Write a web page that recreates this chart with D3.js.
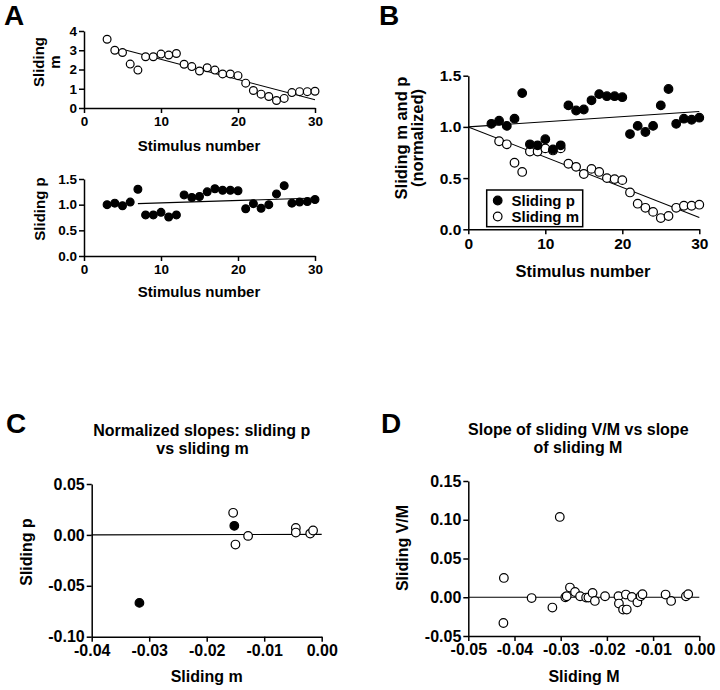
<!DOCTYPE html>
<html><head><meta charset="utf-8">
<script src="https://cdn.jsdelivr.net/npm/d3@7"></script>
<style>
body{margin:0;background:#fff;}
svg{display:block;font-family:"Liberation Sans",Arial,Helvetica,sans-serif;font-weight:bold;}
</style></head><body>
<svg id="chart" width="720" height="690"></svg>
<script>
// ---------- DATA ----------
const stimA = [3,4,5,6,7,8,9,10,11,12,13,14,15,16,17,18,19,20,21,22,23,24,25,26,27,28,29,30];
const slidingM = [3.57,3.00,2.88,2.28,1.97,2.66,2.66,2.80,2.75,2.83,2.27,2.15,1.92,2.09,1.97,1.77,1.77,1.68,1.29,0.91,0.72,0.60,0.39,0.50,0.80,0.85,0.85,0.87];
const slidingP = [1.00,1.03,0.98,1.05,1.30,0.80,0.80,0.85,0.76,0.80,1.19,1.14,1.16,1.25,1.31,1.28,1.28,1.27,0.92,1.02,0.93,1.00,1.21,1.37,1.03,1.05,1.06,1.10];
const fitA_m = [[5,3.05],[30,0.43]];
const fitA_p = [[7,1.02],[30,1.13]];

const stimB_p = [3,4,5,6,7,8,9,10,11,12,13,14,15,16,17,18,19,20,21,22,23,24,25,26,27,28,29,30];
const normP = [1.03,1.06,1.01,1.08,1.33,0.83,0.82,0.88,0.78,0.82,1.21,1.16,1.17,1.26,1.32,1.30,1.30,1.29,0.93,1.01,0.95,1.01,1.21,1.37,1.03,1.08,1.07,1.09];
const stimB_m = [4,5,6,7,8,9,10,11,12,13,14,15,16,17,18,19,20,21,22,23,24,25,26,27,28,29,30];
const normM = [0.86,0.83,0.65,0.56,0.76,0.76,0.79,0.77,0.79,0.64,0.61,0.54,0.59,0.56,0.50,0.49,0.48,0.36,0.25,0.21,0.17,0.11,0.13,0.21,0.23,0.23,0.24];
const fitB_p = [[0,1.0],[30,1.15]];
const fitB_m = [[0,1.0],[30,0.115]];
const legendB = ["Sliding p","Sliding m"];

const slopeC_m_open = [-0.0154,-0.0150,-0.0128,-0.0045,-0.0045,-0.0020,-0.0015];
const slopeC_p_open = [0.0217,-0.0095,-0.0010,0.0069,0.0023,0.0013,0.0043];
const slopeC_m_filled = [-0.0152,-0.0317];
const slopeC_p_filled = [0.0089,-0.0668];
const fitC = [[-0.04,0.0],[0.0,0.0005]];
const titleC = ["Normalized slopes: sliding p","vs sliding m"];

const slopeD_M = [-0.0302,-0.0423,-0.0424,-0.0363,-0.0318,-0.0290,-0.0287,-0.0280,-0.0269,-0.0258,-0.0245,-0.0240,-0.0231,-0.0226,-0.0204,-0.0175,-0.0174,-0.0165,-0.0157,-0.0159,-0.0146,-0.0134,-0.0127,-0.0123,-0.0073,-0.0061,-0.0029,-0.0024];
const slopeD_VM = [0.1036,0.0249,-0.0332,-0.0010,-0.0133,0.0000,0.0013,0.0125,0.0068,0.0013,-0.0004,-0.0004,0.0055,-0.0048,0.0013,0.0013,-0.0081,-0.0159,-0.0159,0.0035,0.0004,-0.0065,0.0013,0.0039,0.0035,-0.0048,0.0013,0.0039];
const fitD = [[-0.05,0.0],[0.0,0.0]];
const titleD = ["Slope of sliding V/M vs slope","of sliding M"];

const ticksStim = [0,10,20,30];
const ticksAm = [0,1,2,3,4];
const ticksP = [0,0.5,1.0,1.5];
const ticksCx = [-0.04,-0.03,-0.02,-0.01,0.00];
const ticksCy = [-0.10,-0.05,0.00,0.05];
const ticksDx = [-0.05,-0.04,-0.03,-0.02,-0.01,0.00];
const ticksDy = [-0.05,0.00,0.05,0.10,0.15];

// ---------- DRAW ----------
const svg = d3.select("#chart");
const fmt2 = v => (v<0?"-":"") + Math.abs(v).toFixed(2);
const fmt1 = v => v.toFixed(1);
const fmt0 = v => String(v);

function axes(g, x, y, xt, yt, xf, yf, fs, xpad, ypad){
  const ax = g.append("g").attr("transform",`translate(0,${y.range()[0]})`)
    .call(d3.axisBottom(x).tickValues(xt).tickFormat(xf).tickSize(5).tickSizeOuter(0).tickPadding(xpad));
  const ay = g.append("g").attr("transform",`translate(${x.range()[0]},0)`)
    .call(d3.axisLeft(y).tickValues(yt).tickFormat(yf).tickSize(5).tickSizeOuter(0).tickPadding(ypad));
  [ax,ay].forEach(a=>{
    a.selectAll("path,line").attr("stroke","#000").attr("stroke-width",1.5);
    a.selectAll("text").attr("fill","#000").style("font-size",fs+"px").style("font-weight","bold").style("font-family","Liberation Sans, Arial, sans-serif");
  });
}
function fitLine(g,x,y,pts){
  g.append("path").datum(pts).attr("fill","none").attr("stroke","#000").attr("stroke-width",1.1)
   .attr("d",d3.line().x(d=>x(d[0])).y(d=>y(d[1])));
}
function dots(g,x,y,xs,ys,r,filled){
  g.append("g").selectAll("circle").data(xs.map((v,i)=>[v,ys[i]])).join("circle")
   .attr("cx",d=>x(d[0])).attr("cy",d=>y(d[1])).attr("r",r)
   .attr("fill",filled?"#000":"#fff").attr("stroke","#000").attr("stroke-width",1.2);
}
function text(g,x,y,s,fs,anchor,rot){
  const t = g.append("text").attr("font-size",fs).attr("text-anchor",anchor||"middle").attr("fill","#000").text(s);
  if(rot) t.attr("transform",`translate(${x},${y}) rotate(-90)`); else t.attr("x",x).attr("y",y);
  return t;
}

// Panel A top
{
  const g = svg.append("g");
  const x = d3.scaleLinear().domain([0,30]).range([84,315]);
  const y = d3.scaleLinear().domain([0,4]).range([108,31]);
  axes(g,x,y,ticksStim,ticksAm,fmt0,fmt0,13.5,3,2);
  fitLine(g,x,y,fitA_m);
  dots(g,x,y,stimA,slidingM,3.9,false);
  text(g,44,62,"Sliding",15,"middle",true);
  text(g,60,62,"m",15,"middle",true);
  text(g,199,150.5,"Stimulus number",15);
  text(g,4,25,"A",28,"start");
}
// Panel A bottom
{
  const g = svg.append("g");
  const x = d3.scaleLinear().domain([0,30]).range([84,315]);
  const y = d3.scaleLinear().domain([0,1.5]).range([256,179]);
  axes(g,x,y,ticksStim,ticksP,fmt0,fmt1,13.5,3,2);
  fitLine(g,x,y,fitA_p);
  dots(g,x,y,stimA,slidingP,3.9,true);
  text(g,45,209,"Sliding p",15,"middle",true);
  text(g,199,297,"Stimulus number",15);
}
// Panel B
{
  const g = svg.append("g");
  const x = d3.scaleLinear().domain([0,30]).range([468.3,699.3]);
  const y = d3.scaleLinear().domain([0,1.5]).range([229.3,75.7]);
  axes(g,x,y,ticksStim,ticksP,fmt0,fmt1,15.5,4,2);
  fitLine(g,x,y,fitB_p);
  fitLine(g,x,y,fitB_m);
  dots(g,x,y,stimB_m,normM,4.3,false);
  dots(g,x,y,stimB_p,normP,4.3,true);
  text(g,407,138,"Sliding m and p",16.5,"middle",true);
  text(g,423,138,"(normalized)",16.5,"middle",true);
  text(g,583,277,"Stimulus number",16.5);
  text(g,379,25,"B",28,"start");
  // legend
  const lg = g.append("g");
  lg.append("rect").attr("x",486.7).attr("y",190).attr("width",96).attr("height",36.7)
    .attr("fill","#fff").attr("stroke","#000").attr("stroke-width",1.5);
  legendB.forEach((s,i)=>{
    lg.append("circle").attr("cx",497.7).attr("cy",200.5+i*16).attr("r",4.3)
      .attr("fill",i===0?"#000":"#fff").attr("stroke","#000").attr("stroke-width",1.2);
    text(lg,511.5,206+i*15.7,s,15,"start");
  });
}
// Panel C
{
  const g = svg.append("g");
  const x = d3.scaleLinear().domain([-0.04,0]).range([91.7,321.7]);
  const y = d3.scaleLinear().domain([-0.10,0.05]).range([636.7,484]);
  axes(g,x,y,ticksCx,ticksCy,fmt2,fmt2,16,3,2);
  fitLine(g,x,y,fitC);
  dots(g,x,y,slopeC_m_open,slopeC_p_open,4.3,false);
  dots(g,x,y,slopeC_m_filled,slopeC_p_filled,4.3,true);
  text(g,201.7,435.5,titleC[0],16);
  text(g,202.5,453.5,titleC[1],16);
  text(g,31.5,552,"Sliding p",16,"middle",true);
  text(g,206.7,681.5,"Sliding m",16);
  text(g,6,433,"C",28,"start");
}
// Panel D
{
  const g = svg.append("g");
  const x = d3.scaleLinear().domain([-0.05,0]).range([468.3,699.3]);
  const y = d3.scaleLinear().domain([-0.05,0.15]).range([636,481]);
  axes(g,x,y,ticksDx,ticksDy,fmt2,fmt2,16,3,2);
  fitLine(g,x,y,fitD);
  dots(g,x,y,slopeD_M,slopeD_VM,4.3,false);
  text(g,578.3,435,titleD[0],16);
  text(g,578,453,titleD[1],16);
  text(g,407.5,548,"Sliding V/M",16,"middle",true);
  text(g,584,681.5,"Sliding M",16);
  text(g,381,433,"D",28,"start");
}
</script>
</body></html>
